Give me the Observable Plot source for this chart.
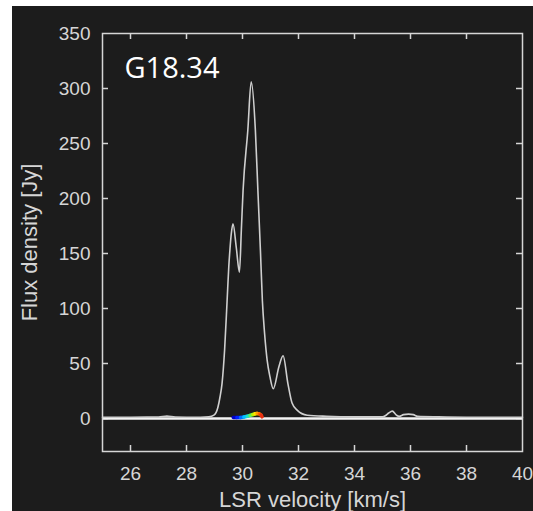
<!DOCTYPE html>
<html>
<head>
<meta charset="utf-8">
<script src="https://cdn.jsdelivr.net/npm/d3@7"></script>
<script src="https://cdn.jsdelivr.net/npm/@observablehq/plot@0.6"></script>
<style>
  html, body { margin: 0; padding: 0; background: #ffffff; overflow: hidden; }
  #chart svg { display: block; margin-left: 12px; margin-top: 6px; }
</style>
</head>
<body>
<div id="chart"></div>
<script>
// Spectrum (LSR velocity in km/s, flux density in Jy)
const velocity = [25.0, 26.0, 27.0, 27.3, 27.6, 28.0, 28.5, 28.8, 28.98, 29.12, 29.2, 29.27, 29.36, 29.45, 29.51, 29.55, 29.6, 29.66, 29.78, 29.89, 29.96, 30.02, 30.19, 30.31, 30.46, 30.55, 30.64, 30.71, 30.79, 30.88, 30.98, 31.1, 31.3, 31.45, 31.62, 31.77, 31.95, 32.31, 33.0, 34.0, 35.0, 35.1, 35.22, 35.35, 35.5, 35.6, 35.75, 35.93, 36.1, 36.25, 37.0, 38.0, 40.0];
const flux     = [1.2, 1.2, 1.3, 2.2, 1.3, 1.2, 1.2, 1.5, 3, 10, 20, 32, 62, 107, 138, 153, 168, 177, 155, 133, 172, 207, 262, 306, 262, 207, 153, 107, 77, 53, 38, 27, 47, 57, 32, 14, 7.6, 3, 2, 1.5, 1.5, 2.5, 5, 6.7, 3, 2, 3.5, 4, 3.5, 2, 1.5, 1.2, 1.2];

// Coloured (rainbow) trace near zero
const cVelocity = [29.67, 29.80, 29.93, 30.05, 30.17, 30.27, 30.37, 30.45, 30.52, 30.60, 30.66, 30.70];
const cFlux     = [0.8, 0.8, 0.9, 1.3, 2.0, 2.8, 3.6, 4.3, 4.6, 4.2, 3.2, 1.5];
const cColors   = ["#0000c8", "#0020ff", "#0070ff", "#00c0ff", "#20e0c0", "#60f050", "#c0f000", "#ffe000", "#ffa000", "#ff6000", "#e83010", "#d02020"];

const xTicks = [26, 28, 30, 32, 34, 36, 38];
const xLabels = [26, 28, 30, 32, 34, 36, 38, 40];
const yTicks = [0, 50, 100, 150, 200, 250, 300];
const yLabels = [0, 50, 100, 150, 200, 250, 300, 350];

const title = "G18.34";
const xTitle = "LSR velocity [km/s]";
const yTitle = "Flux density [Jy]";

const spectrum = velocity.map((v, i) => ({v, f: flux[i]}));
const segs = cVelocity.slice(0, -1).map((v, i) => ({
  x1: v, y1: cFlux[i], x2: cVelocity[i + 1], y2: cFlux[i + 1], c: cColors[i]
}));

const W = 521, H = 505, ML = 90, MR = 11, MT = 27, MB = 60;
const frameW = W - ML - MR, frameH = H - MT - MB;
const tickLen = 6;
const fg = "#d6d6d6";

const plot = Plot.plot({
  width: W,
  height: H,
  marginLeft: ML,
  marginRight: MR,
  marginTop: MT,
  marginBottom: MB,
  style: {background: "#1c1c1c", color: fg, fontFamily: "'Liberation Sans', Arial, sans-serif"},
  x: {domain: [25, 40]},
  y: {domain: [-30, 350]},
  marks: [
    Plot.axisX(xLabels, {tickSize: 0, tickPadding: 15, fontSize: 19, label: null, fill: fg}),
    Plot.axisY(yLabels, {tickSize: 0, tickPadding: 12, fontSize: 19, label: null, fill: fg}),
    Plot.tickX(xTicks, {x: d => d, insetTop: frameH - tickLen, stroke: fg, strokeWidth: 1.5}),
    Plot.tickX(xTicks, {x: d => d, insetBottom: frameH - tickLen, stroke: fg, strokeWidth: 1.5}),
    Plot.tickY(yTicks, {y: d => d, insetRight: frameW - tickLen, stroke: fg, strokeWidth: 1.5}),
    Plot.tickY(yTicks, {y: d => d, insetLeft: frameW - tickLen, stroke: fg, strokeWidth: 1.5}),
    Plot.ruleY([0], {stroke: "#f4f4f4", strokeWidth: 2.5}),
    Plot.line(spectrum, {x: "v", y: "f", stroke: "#cfcfcf", strokeWidth: 1.6, curve: "monotone-x"}),
    Plot.link(segs, {x1: "x1", y1: "y1", x2: "x2", y2: "y2", stroke: d => d.c, strokeWidth: 3.5, strokeLinecap: "round"}),
    Plot.frame({stroke: fg, strokeWidth: 1.5}),
    Plot.text([title], {frameAnchor: "top-left", textAnchor: "start", lineAnchor: "bottom", dx: 22, dy: 44.5, fontSize: 29, fill: "#ffffff", fontFamily: "'Open Sans', sans-serif"}),
    Plot.text([xTitle], {frameAnchor: "bottom", textAnchor: "middle", lineAnchor: "bottom", dy: 55, fontSize: 22, fill: fg}),
    Plot.text([yTitle], {frameAnchor: "left", textAnchor: "middle", lineAnchor: "bottom", rotate: -90, dx: -66, fontSize: 22, fill: fg})
  ]
});
document.getElementById("chart").appendChild(plot);
</script>
</body>
</html>
